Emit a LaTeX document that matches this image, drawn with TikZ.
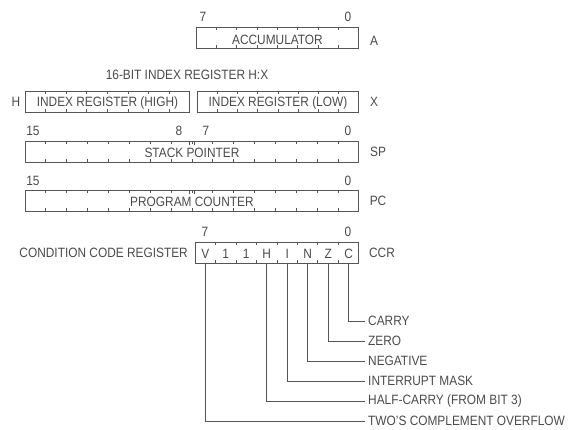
\documentclass[tikz,border=0pt]{standalone}
\usepackage{fontspec}
\setmainfont[FakeStretch=0.88]{Liberation Sans}
\usetikzlibrary{calc}
\definecolor{txt}{HTML}{4A4A4A}
\definecolor{ln}{HTML}{555555}
\newcommand\regticks[2]{%
  \foreach \k in {1,...,#2}{%
    \ifnum\k<#2\relax
    \draw[tick] ($(#1.north west)!{\k/#2}!(#1.north east)$) -- ++(0,3.5);
    \draw[tick] ($(#1.south west)!{\k/#2}!(#1.south east)$) -- ++(0,-3.5);
    \fi}}
\begin{document}
\begin{tikzpicture}[x=1pt,y=-1pt,
  font=\fontsize{13.5}{15}\selectfont,
  every node/.style={text=txt, inner sep=0pt},
  reg/.style={draw=ln, line width=0.9pt, inner sep=0pt, minimum height=21pt, anchor=north west},
  tick/.style={draw=ln, line width=0.9pt},
  lead/.style={draw=ln, line width=0.9pt},
  lbl/.style={anchor=west, inner sep=0pt}]
\useasboundingbox (0,0) rectangle (573,430);

% Accumulator
\node[reg, minimum width=162pt] (acc) at (196,27) {};
\regticks{acc}{8}
\node (accT) at ($(acc.center)+(0,1.5)$) {ACCUMULATOR};
\node (acc7) at (203,17) {7};
\node (acc0) at (348,17) {0};
\node (accA) at (374,41) {A};

% Index register
\node (hxT) at (187,75) {16-BIT INDEX REGISTER H:X};
\node[reg, minimum width=164pt] (ixh) at (25,91) {};
\node[reg, minimum width=161pt] (ixl) at (197,91) {};
\regticks{ixh}{8}
\regticks{ixl}{8}
\node (ixhT) at ($(ixh.center)+(0,1.5)$) {INDEX REGISTER (HIGH)};
\node (ixlT) at ($(ixl.center)+(0,1.5)$) {INDEX REGISTER (LOW)};
\node (ixH) at (16,102) {H};
\node (ixX) at (374,102) {X};

% Stack pointer
\node[reg, minimum width=333pt] (sp) at (25,141) {};
\regticks{sp}{16}
\draw[tick] ($(sp.north)+(-2.5,0)$) -- ++(0,4.5);
\draw[tick] ($(sp.north)+(2.5,0)$) -- ++(0,4.5);
\node (spT) at ($(sp.center)+(0,1)$) {STACK POINTER};
\node (sp15) at (33,131) {15};
\node (sp8) at (179,131) {8};
\node (sp7) at (206,131) {7};
\node (sp0) at (348,131) {0};
\node (spL) at (378,152) {SP};

% Program counter
\node[reg, minimum width=333pt] (pc) at (25,190) {};
\regticks{pc}{16}
\draw[tick] ($(pc.north)+(-2.5,0)$) -- ++(0,4.5);
\draw[tick] ($(pc.north)+(2.5,0)$) -- ++(0,4.5);
\node (pcT) at ($(pc.center)+(0,1)$) {PROGRAM COUNTER};
\node (pc15) at (33,181) {15};
\node (pc0) at (348,181) {0};
\node (pcL) at (378,201) {PC};

% Condition code register
\node[reg, minimum width=163pt] (ccr) at (195,242) {};
\regticks{ccr}{8}
\node (ccr7) at (205,232) {7};
\node (ccr0) at (348,232) {0};
\node[anchor=east] (ccrName) at (188,253) {CONDITION CODE REGISTER};
\node (ccrL) at (382,253) {CCR};
\foreach \n/\t [count=\i] in {bV/V,b6/1,b5/1,bH/H,bI/I,bN/N,bZ/Z,bC/C}{
  \node (t\n) at ($(ccr.west)!{(\i-0.5)/8}!(ccr.east)+(0,1)$) {\t};
  \coordinate (\n) at ($(ccr.south west)!{(\i-0.5)/8}!(ccr.south east)$);
}

% Flag labels
\node[lbl] (carry) at (368,321) {CARRY};
\node[lbl] (zero) at (368,341) {ZERO};
\node[lbl] (neg) at (368,361) {NEGATIVE};
\node[lbl] (irq) at (368,381) {INTERRUPT MASK};
\node[lbl] (half) at (368,401) {HALF-CARRY (FROM BIT 3)};
\node[lbl] (ovf) at (368,421) {TWO’S COMPLEMENT OVERFLOW};

\draw[lead] (bC) |- ([xshift=-3pt]carry.west);
\draw[lead] (bZ) |- ([xshift=-3pt]zero.west);
\draw[lead] (bN) |- ([xshift=-3pt]neg.west);
\draw[lead] (bI) |- ([xshift=-3pt]irq.west);
\draw[lead] (bH) |- ([xshift=-3pt]half.west);
\draw[lead] (bV) |- ([xshift=-3pt]ovf.west);
\end{tikzpicture}
\end{document}
